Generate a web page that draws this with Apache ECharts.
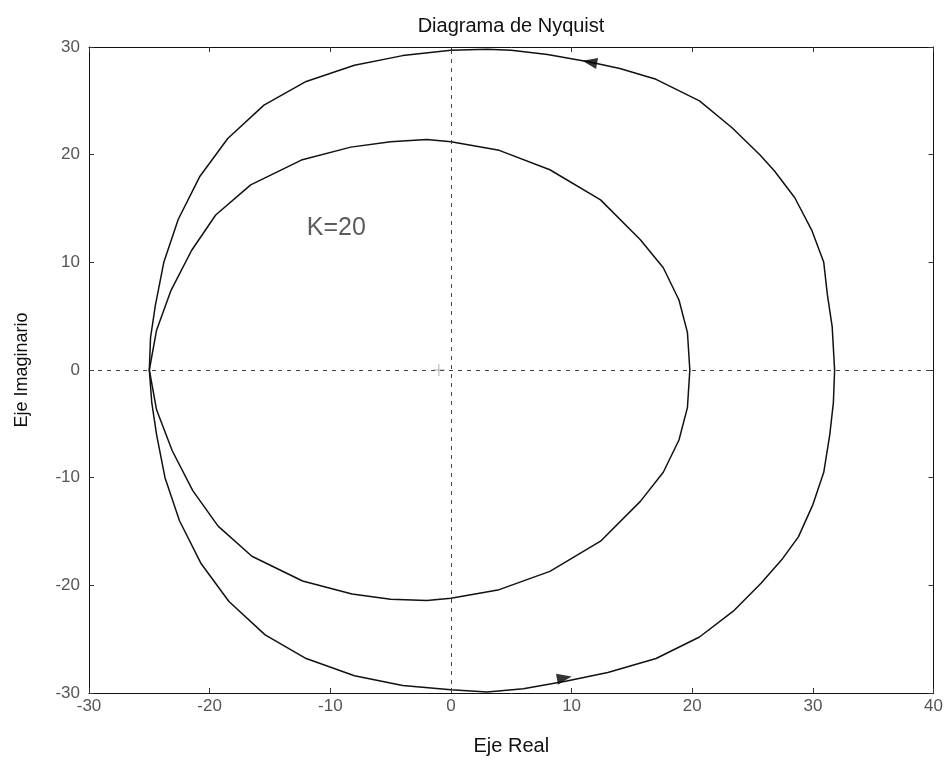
<!DOCTYPE html>
<html>
<head>
<meta charset="utf-8">
<script src="https://cdn.jsdelivr.net/npm/echarts@6/dist/echarts.min.js"></script>
<style>html,body{margin:0;padding:0;background:#fff;}#c{width:946px;height:761px;}</style>
</head>
<body>
<div id="c"></div>
<script>
// ---- data ----
const titleText = "Diagrama de Nyquist";
const xName = "Eje Real";
const yName = "Eje Imaginario";
const xTicks = [-30, -20, -10, 0, 10, 20, 30, 40];
const yTicks = [-30, -20, -10, 0, 10, 20, 30];

const outerCurve = [
  [31.8,0],[31.6,4],[31.2,7],[30.9,10],[29.9,13],[28.5,16],[26.8,18.5],[25.6,20],[23.3,22.5],[20.6,25],
  [17,27],[14,28],[11.5,28.6],[8,29.3],[5,29.7],[3,29.8],[0,29.7],[-4,29.2],[-8,28.3],[-12,26.8],
  [-15.5,24.6],[-18.5,21.5],[-20.8,18],[-22.6,14],[-23.8,10],[-24.5,6],[-24.9,3],[-25,0],
  [-24.8,-3],[-24.4,-6],[-23.7,-10],[-22.5,-14],[-20.7,-18],[-18.4,-21.5],[-15.4,-24.6],[-12,-26.8],
  [-8,-28.4],[-4,-29.3],[0,-29.7],[3,-29.9],[6,-29.6],[9.5,-28.9],[13,-28.1],[17,-26.8],[20.6,-24.8],
  [23.4,-22.4],[25.7,-19.8],[27.5,-17.5],[28.8,-15.5],[30,-12.5],[30.9,-9.5],[31.4,-6],[31.7,-3],[31.8,0]
];
const innerCurve = [
  [19.8,0],[19.6,3.5],[18.9,6.5],[17.6,9.5],[15.7,12.1],[12.4,15.8],[8.2,18.6],[4,20.4],[0,21.2],[-2,21.4],
  [-5,21.2],[-8.3,20.7],[-12.4,19.5],[-16.6,17.2],[-19.5,14.4],[-21.5,11.1],[-23.2,7.4],[-24.4,3.7],[-25,0],
  [-24.4,-3.7],[-23.1,-7.5],[-21.4,-11.2],[-19.3,-14.5],[-16.5,-17.3],[-12.3,-19.6],[-8.2,-20.8],[-5,-21.3],
  [-2,-21.4],[0,-21.2],[4,-20.4],[8.2,-18.7],[12.4,-15.9],[15.7,-12.2],[17.6,-9.5],[18.9,-6.5],[19.6,-3.5],[19.8,0]
];
// arrows: [x, y, rotation in degrees]
const arrows = [[11.5, 28.6, 79], [9.4, -28.6, -80]];
const criticalPoint = [[-1, 0]];
const annotation = [[-9.5, 13.2, "K=20"]];

const font = "Liberation Sans, Arial, sans-serif";
const chart = echarts.init(document.getElementById('c'), null, {renderer: 'canvas'});

const axisCommon = {
  type: 'value',
  axisLine: {show: true, onZero: false, lineStyle: {color: '#111', width: 1}},
  axisTick: {show: true, inside: true, length: 5, lineStyle: {color: '#333'}},
  splitLine: {show: false}
};

chart.setOption({
  animation: false,
  backgroundColor: '#fff',
  title: {
    text: titleText, left: 506, top: 11, textAlign: 'center',
    textStyle: {fontFamily: font, fontSize: 20, fontWeight: 'normal', color: '#111'}
  },
  grid: {left: 89, right: 12, top: 47, bottom: 68},
  xAxis: [
    Object.assign({}, axisCommon, {
      min: xTicks[0], max: xTicks[xTicks.length - 1], interval: 10, position: 'bottom',
      name: xName, nameLocation: 'middle', nameGap: 43,
      nameTextStyle: {fontFamily: font, fontSize: 20, color: '#111'},
      axisLabel: {fontFamily: font, fontSize: 17, color: '#555', margin: 5}
    }),
    Object.assign({}, axisCommon, {
      min: xTicks[0], max: xTicks[xTicks.length - 1], interval: 10, position: 'top',
      axisLabel: {show: false}
    })
  ],
  yAxis: [
    Object.assign({}, axisCommon, {
      min: yTicks[0], max: yTicks[yTicks.length - 1], interval: 10, position: 'left',
      name: yName, nameLocation: 'middle', nameGap: 58,
      nameTextStyle: {fontFamily: font, fontSize: 18, color: '#111'},
      axisLabel: {fontFamily: font, fontSize: 17, color: '#555', margin: 9}
    }),
    Object.assign({}, axisCommon, {
      min: yTicks[0], max: yTicks[yTicks.length - 1], interval: 10, position: 'right',
      axisLabel: {show: false}
    })
  ],
  series: [
    {
      type: 'line', data: outerCurve, showSymbol: false, symbol: 'none',
      lineStyle: {color: '#111', width: 1.5}, z: 3,
      markLine: {
        silent: true, symbol: 'none', label: {show: false},
        lineStyle: {type: [4, 5], color: '#444', width: 1},
        data: [{xAxis: 0}, {yAxis: 0}]
      }
    },
    {
      type: 'line', data: innerCurve, showSymbol: false, symbol: 'none',
      lineStyle: {color: '#111', width: 1.5}, z: 3
    },
    {
      type: 'scatter', z: 4,
      data: arrows.map(a => ({value: [a[0], a[1]], symbolRotate: a[2]})),
      symbol: 'triangle', symbolSize: [11, 15],
      itemStyle: {color: '#000'}
    },
    {
      type: 'scatter', z: 2, data: criticalPoint,
      symbol: 'path://M4.6,0h0.8v10h-0.8z M0,4.6h10v0.8h-10z', symbolSize: 12,
      itemStyle: {color: '#999'}
    },
    {
      type: 'scatter', z: 5,
      data: annotation.map(a => ({value: [a[0], a[1]], name: a[2]})),
      symbolSize: 0,
      label: {show: true, position: 'inside', formatter: p => p.name,
        fontFamily: font, fontSize: 25, color: '#333'}
    }
  ]
});
</script>
</body>
</html>
